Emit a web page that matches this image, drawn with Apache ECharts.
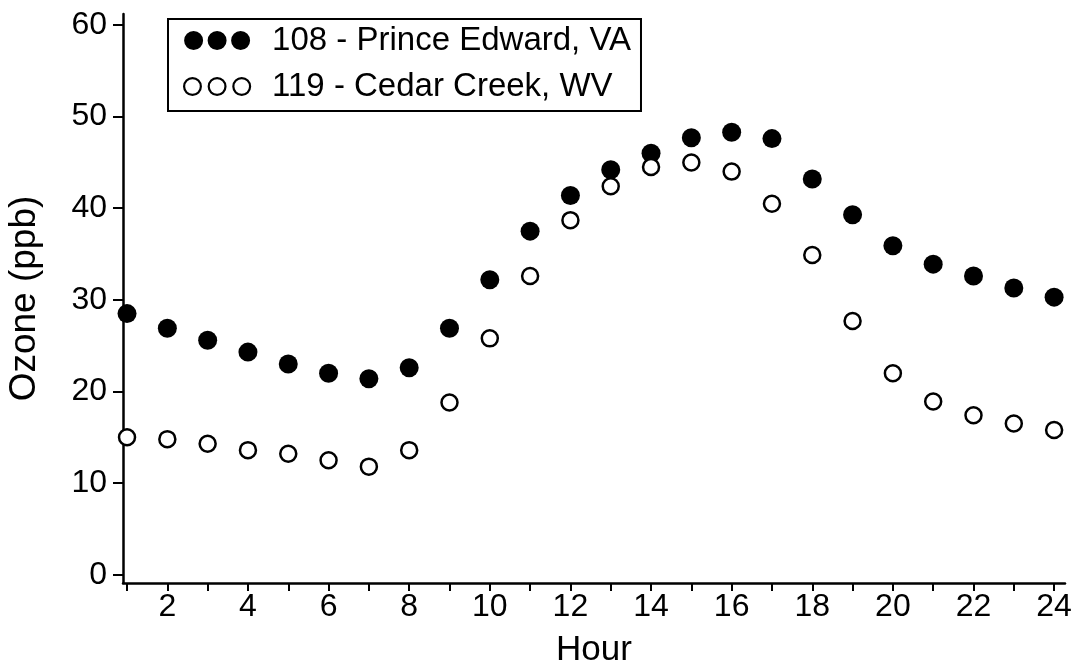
<!DOCTYPE html>
<html>
<head>
<meta charset="utf-8">
<style>
  html, body { margin: 0; padding: 0; background: #fff; }
  #chart { width: 1084px; height: 669px; }
</style>
<script src="https://cdn.jsdelivr.net/npm/echarts@6/dist/echarts.min.js"></script>
</head>
<body>
<div id="chart"></div>
<script>
// Hourly mean ozone at two monitoring sites
const hours = [1, 2, 3, 4, 5, 6, 7, 8, 9, 10, 11, 12, 13, 14, 15, 16, 17, 18, 19, 20, 21, 22, 23, 24];
const princeEdward = [28.5, 26.9, 25.6, 24.3, 23.0, 22.0, 21.4, 22.6, 26.9, 32.2, 37.5, 41.4,
                      44.2, 46.0, 47.7, 48.3, 47.6, 43.2, 39.3, 35.9, 33.9, 32.6, 31.3, 30.3];
const cedarCreek = [15.0, 14.8, 14.3, 13.6, 13.2, 12.5, 11.8, 13.6, 18.8, 25.8, 32.6, 38.7,
                    42.4, 44.5, 45.0, 44.0, 40.5, 34.9, 27.7, 22.0, 18.9, 17.4, 16.5, 15.8];
const seriesNames = ['108 - Prince Edward, VA', '119 - Cedar Creek, WV'];

// Tick positions and labels
const xTicks = hours;
const xLabels = [2, 4, 6, 8, 10, 12, 14, 16, 18, 20, 22, 24];
const yTicks = [0, 10, 20, 30, 40, 50, 60];

const FONT = '"Liberation Sans", Arial, Helvetica, sans-serif';

// Legend icon: a row of three circles
function circleRow(r, gap) {
  let d = '';
  for (let i = 0; i < 3; i++) {
    const cx = r + i * gap;
    d += `M${cx - r} ${r}A${r} ${r} 0 1 0 ${cx + r} ${r}A${r} ${r} 0 1 0 ${cx - r} ${r}Z`;
  }
  return 'path://' + d;
}

const chart = echarts.init(document.getElementById('chart'), null, { renderer: 'canvas' });

const axisCommon = {
  type: 'value',
  nameLocation: 'middle',
  nameTextStyle: { fontFamily: FONT, fontSize: 35, color: '#000' },
  axisLine: { show: true, onZero: false, lineStyle: { color: '#000', width: 2.5 } },
  splitLine: { show: false },
  axisLabel: { fontFamily: FONT, fontSize: 32, color: '#000' },
  axisTick: { show: true, inside: false, lineStyle: { color: '#000', width: 2 } }
};

chart.setOption({
  backgroundColor: '#fff',
  animation: false,
  grid: { left: 123, right: 19, top: 14, bottom: 86, containLabel: false, outerBoundsMode: 'none' },
  legend: {
    orient: 'vertical',
    left: 168,
    top: 19,
    padding: [4, 10, 7, 15],
    itemGap: 11,
    itemWidth: 66,
    itemHeight: 19,
    borderColor: '#000',
    borderWidth: 2,
    backgroundColor: '#fff',
    selectedMode: false,
    textStyle: {
      fontFamily: FONT, fontSize: 33, color: '#000',
      lineHeight: 35, width: 358, padding: [0, 0, 0, 17]
    },
    data: [
      { name: seriesNames[0], icon: circleRow(9.5, 23.5),
        itemStyle: { color: '#000', borderWidth: 0 } },
      { name: seriesNames[1], icon: circleRow(8, 23.5),
        itemStyle: { color: '#fff', borderColor: '#000', borderWidth: 2.2 } }
    ]
  },
  xAxis: Object.assign({}, axisCommon, {
    min: 0.9,
    max: 24.27,
    name: 'Hour',
    nameGap: 50,
    axisTick: Object.assign({}, axisCommon.axisTick, { customValues: xTicks, length: 8 }),
    axisLabel: Object.assign({}, axisCommon.axisLabel, { customValues: xLabels, margin: 8 })
  }),
  yAxis: Object.assign({}, axisCommon, {
    min: -0.9,
    max: 61.2,
    name: 'Ozone (ppb)',
    nameTextStyle: { fontFamily: FONT, fontSize: 37, color: '#000' },
    nameGap: 80,
    axisTick: Object.assign({}, axisCommon.axisTick, { customValues: yTicks, length: 10 }),
    axisLabel: Object.assign({}, axisCommon.axisLabel, { customValues: yTicks, margin: 16 })
  }),
  series: [
    {
      name: seriesNames[0],
      type: 'scatter',
      symbol: 'circle',
      symbolSize: 19,
      itemStyle: { color: '#000', opacity: 1 },
      data: hours.map((h, i) => [h, princeEdward[i]])
    },
    {
      name: seriesNames[1],
      type: 'scatter',
      symbol: 'circle',
      symbolSize: 16,
      itemStyle: { color: '#fff', borderColor: '#000', borderWidth: 2.5, opacity: 1 },
      data: hours.map((h, i) => [h, cedarCreek[i]])
    }
  ]
});
</script>
</body>
</html>
